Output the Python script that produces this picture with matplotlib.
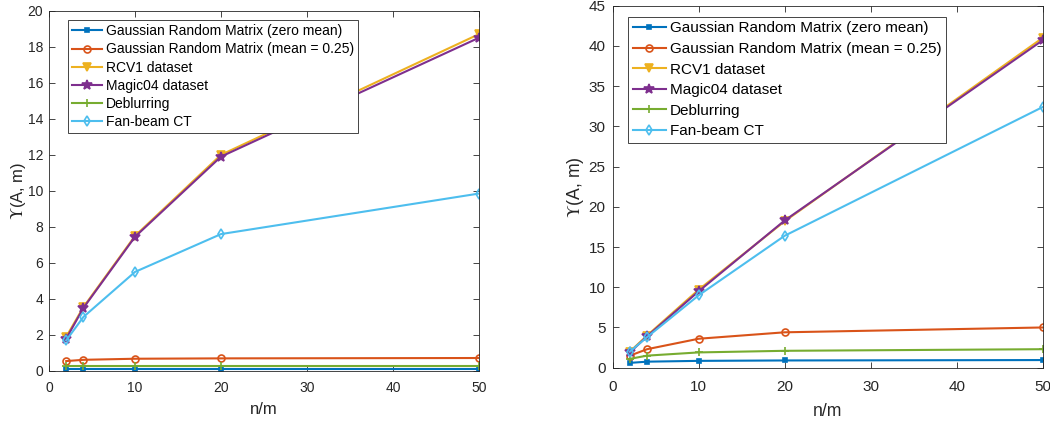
import matplotlib
matplotlib.use("Agg")
import matplotlib.pyplot as plt

plt.rcParams["font.family"] = ["Liberation Sans", "DejaVu Sans"]
plt.rcParams["mathtext.fontset"] = "stix"

ratios = [2, 4, 10, 20, 50]

labels = [
    "Gaussian Random Matrix (zero mean)",
    "Gaussian Random Matrix (mean = 0.25)",
    "RCV1 dataset",
    "Magic04 dataset",
    "Deblurring",
    "Fan-beam CT",
]

# left panel
left_zero_mean = [0.1, 0.1, 0.1, 0.1, 0.1]
left_mean_025 = [0.55, 0.62, 0.68, 0.70, 0.72]
left_rcv1 = [1.9, 3.55, 7.5, 12.0, 18.7]
left_magic04 = [1.8, 3.5, 7.45, 11.9, 18.5]
left_deblur = [0.28, 0.28, 0.28, 0.28, 0.28]
left_fanbeam = [1.7, 3.0, 5.5, 7.6, 9.85]

# right panel
right_zero_mean = [0.6, 0.75, 0.85, 0.9, 0.95]
right_mean_025 = [1.5, 2.3, 3.6, 4.4, 5.0]
right_rcv1 = [2.0, 4.0, 9.7, 18.2, 41.0]
right_magic04 = [1.9, 3.9, 9.5, 18.3, 40.7]
right_deblur = [1.1, 1.5, 1.9, 2.1, 2.3]
right_fanbeam = [2.0, 3.8, 9.0, 16.4, 32.4]

colors = ["#0072BD", "#D95319", "#EDB120", "#7E2F8E", "#77AC30", "#4DBEEE"]
styles = [
    dict(marker="s", ms=3.5, mfc=colors[0]),
    dict(marker="o", ms=5, mfc="none"),
    dict(marker="v", ms=6, mfc=colors[2]),
    dict(marker="*", ms=7, mfc=colors[3]),
    dict(marker="+", ms=6),
    dict(marker="d", ms=5, mfc="none"),
]


def draw_panel(ax, series, ylim, yticks, fs, lab_fs, legend_xy, spacing, pads):
    xpad, ypad, xlabpad, ylabpad = pads
    for vals, lab, c, st in zip(series, labels, colors, styles):
        ax.plot(ratios, vals, color=c, lw=1.5, mec=c, mew=1.2, label=lab, **st)
    ax.set_xlim(0, 50)
    ax.set_ylim(*ylim)
    ax.set_xticks([0, 10, 20, 30, 40, 50])
    ax.set_yticks(yticks)
    ax.tick_params(direction="in", top=True, right=True, labelsize=fs,
                   colors="#262626", length=4, width=0.6)
    ax.tick_params(axis="x", pad=xpad)
    ax.tick_params(axis="y", pad=ypad)
    for sp in ax.spines.values():
        sp.set_color("#262626")
        sp.set_linewidth(0.6)
    ax.set_xlabel("n/m", fontsize=lab_fs, color="#262626", labelpad=xlabpad)
    ax.set_ylabel(r"$\Upsilon$(A, m)", fontsize=lab_fs, color="#262626", labelpad=ylabpad)
    leg = ax.legend(loc="upper left", bbox_to_anchor=legend_xy, borderaxespad=0,
                    fontsize=fs, fancybox=False, framealpha=1, edgecolor="#262626",
                    handlelength=2.15, handletextpad=0.3, labelspacing=spacing,
                    borderpad=0.3)
    leg.get_frame().set_linewidth(0.6)


fig = plt.figure(figsize=(10.5, 4.21), dpi=100)
ax1 = fig.add_axes([0.0467, 0.1188, 0.4095, 0.8558])
ax2 = fig.add_axes([0.5835, 0.1266, 0.4095, 0.8599])

draw_panel(ax1, [left_zero_mean, left_mean_025, left_rcv1, left_magic04, left_deblur, left_fanbeam],
           (0, 20), range(0, 21, 2), 10, 12, (0.044, 0.974), 0.30, (7, 4.3, 5.5, -0.5))
draw_panel(ax2, [right_zero_mean, right_mean_025, right_rcv1, right_magic04, right_deblur, right_fanbeam],
           (0, 45), range(0, 46, 5), 11, 12.7, (0.036, 0.969), 0.43, (8.6, 5, 6.5, 2))

fig.savefig("out.png", dpi=100)
